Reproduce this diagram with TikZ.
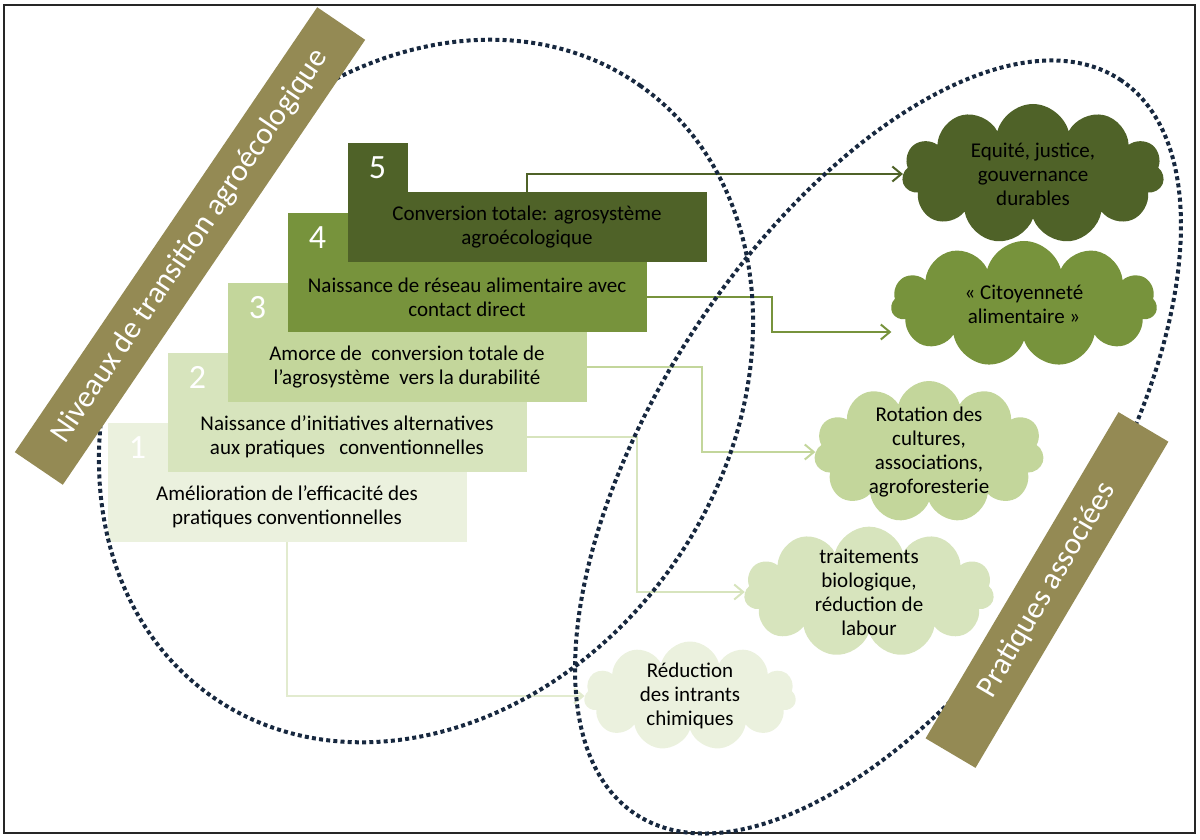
\documentclass[tikz,border=0pt]{standalone}
\usepackage{fontspec}
\setmainfont{Carlito}
\usetikzlibrary{shapes.symbols,arrows.meta}
\definecolor{lvlone}{HTML}{EBF1DE}
\definecolor{lvltwo}{HTML}{D7E4BD}
\definecolor{lvlthree}{HTML}{C3D69B}
\definecolor{lvlfour}{HTML}{77933C}
\definecolor{lvlfive}{HTML}{4F6228}
\definecolor{khaki}{HTML}{948A54}
\definecolor{navydot}{HTML}{17283F}

\begin{document}
\begin{tikzpicture}[x=1pt,y=-1pt,
    stepbody/.style={minimum width=359pt,minimum height=70pt,inner sep=0pt,align=center,font=\fontsize{21}{24}\selectfont},
    steptab/.style={minimum width=60pt,minimum height=50pt,inner sep=0pt,anchor=south west,text=white,font=\fontsize{34}{34}\selectfont},
    practice/.style={cloud,cloud puffs=11,cloud ignores aspect,inner sep=-6pt,align=center,font=\fontsize{21}{24}\selectfont},
    connect/.style={line width=2pt,-{Straight Barb[length=9pt,width=15pt]}},
    dotring/.style={navydot,line width=4pt,dash pattern=on 4pt off 3.2pt},
    tagbar/.style={fill=khaki,text=white,minimum width=#1,minimum height=58pt,inner sep=0pt,font=\fontsize{31}{31}\selectfont}]
            \useasboundingbox (0,0) rectangle (1200,840);
            \draw[black!85,line width=2.5pt](4,5) rectangle (1195,833);
            % Transition levels
            \node[stepbody,fill=lvlone](s1) at (287,507) {Amélioration de l’efficacité des\\pratiques conventionnelles};
            \node[steptab,fill=lvlone](t1) at ([yshift=-1pt]s1.north west) {1};
            \node[stepbody,fill=lvltwo](s2) at (347,437) {Naissance d’initiatives alternatives\\aux pratiques~~ conventionnelles};
            \node[steptab,fill=lvltwo](t2) at ([yshift=-1pt]s2.north west) {2};
            \node[stepbody,fill=lvlthree](s3) at (407,367) {Amorce de~ conversion totale de\\l’agrosystème~ vers la durabilité};
            \node[steptab,fill=lvlthree](t3) at ([yshift=-1pt]s3.north west) {3};
            \node[stepbody,fill=lvlfour](s4) at (467,297) {Naissance de réseau alimentaire avec\\contact direct};
            \node[steptab,fill=lvlfour](t4) at ([yshift=-1pt]s4.north west) {4};
            \node[stepbody,fill=lvlfive](s5) at (527,227) {Conversion totale: agrosystème\\agroécologique};
            \node[steptab,fill=lvlfive](t5) at ([yshift=-1pt]s5.north west) {5};
            % Associated practices
            \node[practice,fill=lvlfive,minimum width=262pt,minimum height=140pt](cA) at (1033,174) {Equité, justice,\\gouvernance\\durables};
            \node[practice,fill=lvlfour,minimum width=266pt,minimum height=126pt](cB) at (1024,304) {« Citoyenneté\\alimentaire »};
            \node[practice,fill=lvlthree,minimum width=230pt,minimum height=142pt](cC) at (929,452) {Rotation des\\cultures,\\associations,\\agroforesterie};
            \node[practice,fill=lvltwo,minimum width=250pt,minimum height=122pt](cD) at (869,592) {traitements\\biologique,\\réduction de\\labour};
            \node[practice,fill=lvlone,minimum width=212pt,minimum height=109pt](cE) at (690,696) {Réduction\\des intrants\\chimiques};
            % Links
            \draw[connect,lvlfive](s5.north) |- (cA.west);
            \draw[connect,lvlfour](s4.east) -- ++(125,0) |- ([yshift=-28pt]cB.west);
            \draw[connect,lvlthree](s3.east) -- ++(115,0) |- (cC.west);
            \draw[connect,lvltwo](s2.east) -- ++(110,0) |- (cD.west);
            \draw[connect,lvlone!55!lvltwo](s1.south) |- (cE.west);
            % Groupings
            \draw[dotring,rotate around={55:(426,391)}](426,391) ellipse [x radius=373,y radius=302];
            \draw[dotring,rotate around={56.6:(878,447)}](878,447) ellipse [x radius=440,y radius=218];
            % Titles
            \node[tagbar=538pt,rotate=55.8](lvltag) at (190,246) {Niveaux de transition agroécologique};
            \node[tagbar=379pt,rotate=59.4](practag) at (1047,590) {Pratiques associées};
\end{tikzpicture}
\end{document}
